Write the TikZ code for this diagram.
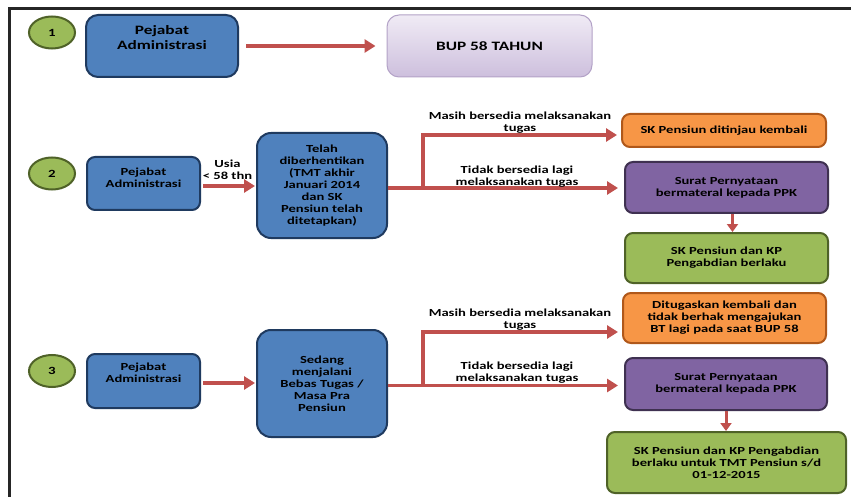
\documentclass[tikz,border=0pt]{standalone}
\usepackage{fontspec}
\setmainfont{Carlito}[FakeStretch=1.35]
\usetikzlibrary{shapes.geometric,arrows.meta}
\definecolor{bluef}{HTML}{4F81BD}
\definecolor{blued}{HTML}{1F3A5F}
\definecolor{orangef}{HTML}{F79646}
\definecolor{oranged}{HTML}{B0581A}
\definecolor{purplef}{HTML}{8064A2}
\definecolor{purpled}{HTML}{3F3151}
\definecolor{greenf}{HTML}{9BBB59}
\definecolor{greend}{HTML}{4F6228}
\definecolor{arrred}{HTML}{C0504D}
\definecolor{lavtop}{HTML}{F0EBF5}
\definecolor{lavbot}{HTML}{CDBFDD}
\definecolor{lavd}{HTML}{B3A2C7}
\definecolor{framec}{HTML}{262626}
\begin{document}
\begin{tikzpicture}[x=1pt,y=-1pt,
  boxbase/.style={draw, line width=2pt, rounded corners=8pt, inner sep=0pt, align=center,
    font=\bfseries\fontsize{10.8}{12}\selectfont},
  bluebox/.style={boxbase, fill=bluef, draw=blued},
  orangebox/.style={boxbase, fill=orangef, draw=oranged},
  purplebox/.style={boxbase, fill=purplef, draw=purpled},
  greenbox/.style={boxbase, fill=greenf, draw=greend},
  numcirc/.style={ellipse, draw=greend, fill=greenf, line width=2pt, minimum width=46pt,
    minimum height=32pt, inner sep=0pt, font=\bfseries\fontsize{11}{12}\selectfont},
  smalltxt/.style={align=center, inner sep=0pt, font=\bfseries\fontsize{10.8}{12}\selectfont},
  bigtxt/.style={align=center, inner sep=0pt, font=\bfseries\fontsize{12.8}{15}\selectfont},
  arr/.style={draw=arrred, line width=3.2pt, -{Triangle[length=11pt,width=13pt]}},
  arrline/.style={draw=arrred, line width=3.2pt},
  arrsmall/.style={draw=arrred, line width=3pt, -{Triangle[length=8pt,width=11pt]}}
]
\useasboundingbox (0,0) rectangle (851,497);
\fill[white] (0,0) rectangle (851,497);
\draw[framec, line width=2.6pt] (9.5,8.5) -- (851,8.5);
\draw[framec, line width=2.6pt] (9.5,7.2) -- (9.5,497);

% Row 1
\node[numcirc] (c1) at (52,32.5) {1};
\node[bluebox, rounded corners=12pt, minimum width=152pt, minimum height=62pt] (pa1) at (162,46) {};
\node[bigtxt] (pa1t) at (162,38) {Pejabat\\Administrasi};
\node[draw=lavd, line width=1pt, rounded corners=12pt, top color=lavtop, bottom color=lavbot,
  minimum width=205pt, minimum height=62pt, inner sep=0pt,
  font=\bfseries\fontsize{12.8}{15}\selectfont] (bup) at (489.5,46) {BUP 58 TAHUN};
\draw[arr, shorten <=7pt, shorten >=11pt] (pa1) -- (bup);

% Row 2
\node[numcirc] (c2) at (52,173.5) {2};
\node[bluebox, minimum width=113pt, minimum height=53pt] (pa2) at (143.5,183.5) {};
\node[smalltxt] (pa2t) at (143.5,177.5) {Pejabat\\Administrasi};
\node[bluebox, rounded corners=14pt, minimum width=130pt, minimum height=105pt] (telah) at (322,185.5)
  {Telah\\diberhentikan\\(TMT akhir\\Januari 2014\\dan SK\\Pensiun telah\\ditetapkan)};
\node[smalltxt] (usia) at (227.5,170) {Usia\\< 58 thn};
\draw[arr, shorten <=2pt, shorten >=1pt] ([yshift=-2.5pt]pa2.east) -- ([yshift=-2.5pt]pa2.east -| telah.west);

\node[orangebox, minimum width=204pt, minimum height=33pt] (ska) at (724,130.5) {SK Pensiun ditinjau kembali};
\node[purplebox, minimum width=203pt, minimum height=51pt] (p2) at (726.5,187.5) {Surat Pernyataan\\bermateral kepada PPK};
\node[greenbox, minimum width=203pt, minimum height=50pt] (g2) at (726.5,258) {SK Pensiun dan KP\\Pengabdian berlaku};
\coordinate (j2) at (423,188);
\draw[arrline] (telah.east |- j2) -- (j2);
\draw[arr, shorten >=4pt] (j2) |- ([yshift=-4.5pt]ska.west);
\draw[arr, shorten >=6pt] (j2) -- (j2 -| p2.west);
\node[smalltxt] (m2) at (520,122.5) {Masih bersedia melaksanakan\\tugas};
\node[smalltxt] (t2) at (517,176.5) {Tidak bersedia lagi\\melaksanakan tugas};
\draw[arrsmall] ([xshift=6pt]p2.south) -- ([xshift=6pt]g2.north);

% Row 3
\node[numcirc] (c3) at (52,371) {3};
\node[bluebox, minimum width=113pt, minimum height=54pt] (pa3) at (143.5,381) {};
\node[smalltxt] (pa3t) at (143.5,373) {Pejabat\\Administrasi};
\node[bluebox, rounded corners=14pt, minimum width=130pt, minimum height=107pt] (sedang) at (322,383.5)
  {Sedang\\menjalani\\Bebas Tugas /\\Masa Pra\\Pensiun};
\draw[arr, shorten <=2pt, shorten >=1pt] ([yshift=-2pt]pa3.east) -- ([yshift=-2pt]pa3.east -| sedang.west);

\node[orangebox, minimum width=203pt, minimum height=50pt] (ob) at (724.5,318)
  {Ditugaskan kembali dan\\tidak berhak mengajukan\\BT lagi pada saat BUP 58};
\node[purplebox, minimum width=202pt, minimum height=52pt] (p3) at (726,384) {Surat Pernyataan\\bermateral kepada PPK};
\node[greenbox, minimum width=239pt, minimum height=61pt] (g3) at (726.5,462.5)
  {SK Pensiun dan KP Pengabdian\\berlaku untuk TMT Pensiun s/d\\01-12-2015};
\coordinate (j3) at (423,385.5);
\draw[arrline] (sedang.east |- j3) -- (j3);
\draw[arr, shorten >=4pt] (j3) |- ([yshift=-14pt]ob.west);
\draw[arr, shorten >=6pt] (j3) -- (j3 -| p3.west);
\node[smalltxt] (m3) at (520,319.5) {Masih bersedia melaksanakan\\tugas};
\node[smalltxt] (t3) at (517,373) {Tidak bersedia lagi\\melaksanakan tugas};
\draw[arrsmall] (p3.south) -- (p3.south |- g3.north);
\end{tikzpicture}
\end{document}
